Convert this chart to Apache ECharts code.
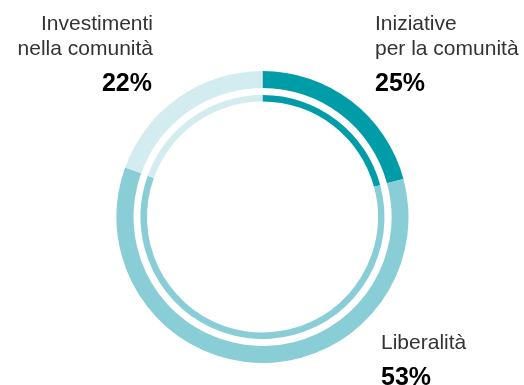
<!DOCTYPE html>
<html>
<head>
<meta charset="utf-8">
<script src="https://cdn.jsdelivr.net/npm/echarts@6/dist/echarts.min.js"></script>
<style>
html,body{margin:0;padding:0;background:#fff;}
#chart{width:524px;height:385px;}
</style>
</head>
<body>
<div id="chart"></div>
<script>
// Categories clockwise from 12 o'clock
const categories = ['Iniziative per la comunità', 'Liberalità', 'Investimenti nella comunità'];
// Arc shares as drawn in the picture
const arcShares = [20.8, 59.7, 19.5];
// Printed percentages
const percentLabels = ['25%', '53%', '22%'];
const nameLines = [['Iniziative', 'per la comunità'], ['Liberalità'], ['Investimenti', 'nella comunità']];
const colors = ['#009ca8', '#89cdd6', '#d3ecf0'];

const chart = echarts.init(document.getElementById('chart'), null, {renderer: 'canvas'});

const data = categories.map((c, i) => ({name: c, value: arcShares[i], itemStyle: {color: colors[i]}}));

const baseFont = '"Liberation Sans", Arial, sans-serif';

function txt(x, y, s, align, size, bold) {
  return {
    type: 'text', x: x, y: y, silent: true,
    style: {
      text: s, align: align, verticalAlign: 'top',
      fill: bold ? '#000000' : '#333333', fontFamily: baseFont, fontSize: size, fontWeight: bold ? 'bold' : 'normal'
    }
  };
}

const graphics = [
  txt(153, 14, nameLines[2][0], 'right', 21, false),
  txt(153, 39, nameLines[2][1], 'right', 21, false),
  txt(152, 72, percentLabels[2], 'right', 25, true),
  txt(375, 14, nameLines[0][0], 'left', 21, false),
  txt(375, 39, nameLines[0][1], 'left', 21, false),
  txt(375, 72, percentLabels[0], 'left', 25, true),
  txt(381, 333, nameLines[1][0], 'left', 21, false),
  txt(381, 366, percentLabels[1], 'left', 25, true)
];

chart.setOption({
  animation: false,
  backgroundColor: '#ffffff',
  series: [
    {
      type: 'pie', center: [262.5, 217], radius: [129, 146],
      startAngle: 90, clockwise: true, silent: true,
      label: {show: false}, labelLine: {show: false},
      itemStyle: {borderWidth: 0},
      data: data
    },
    {
      type: 'pie', center: [262.5, 217], radius: [115.5, 122],
      startAngle: 90, clockwise: true, silent: true,
      label: {show: false}, labelLine: {show: false},
      itemStyle: {borderWidth: 0},
      data: data
    }
  ],
  graphic: graphics
});
</script>
</body>
</html>
